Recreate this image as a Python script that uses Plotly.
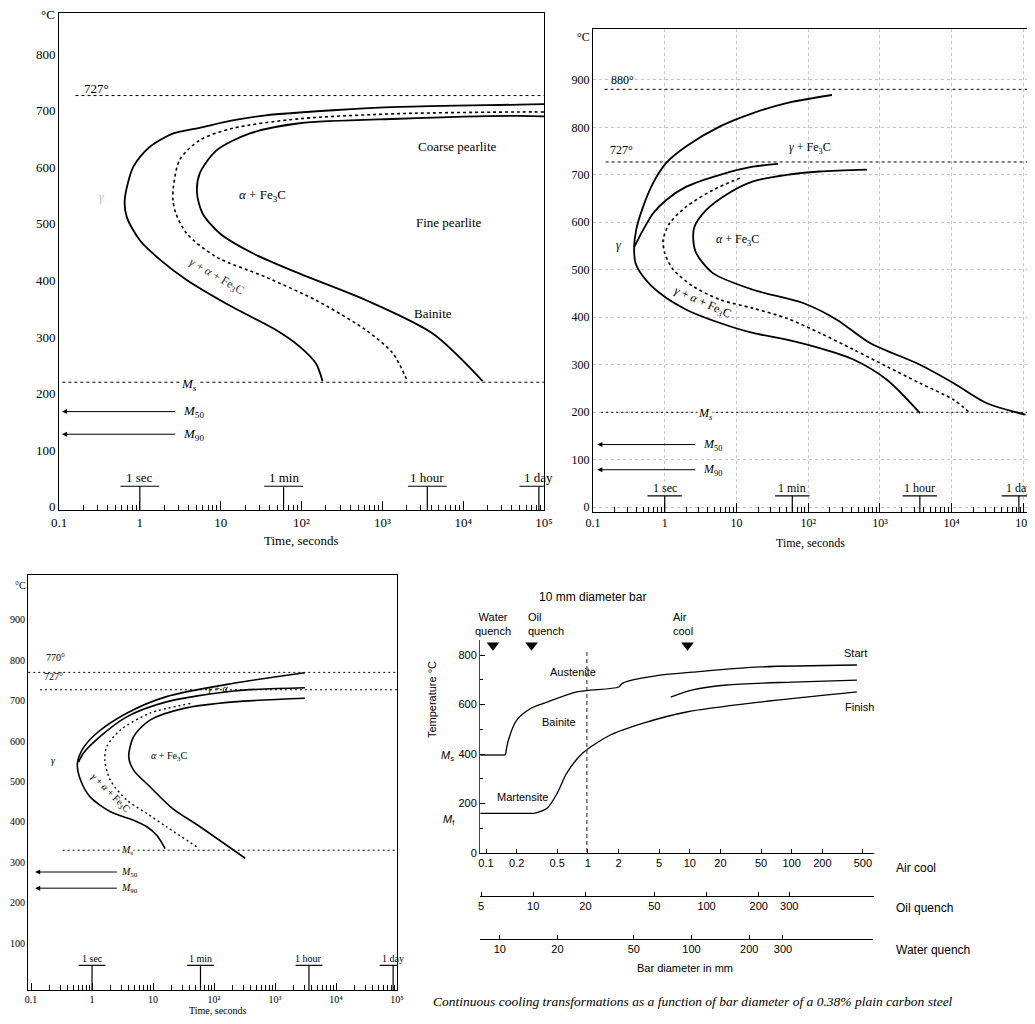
import numpy as np
import plotly.graph_objects as go

# The page adds an 8 px body margin, so page pixel p maps to figure pixel p - 8;
# the height is kept small enough that no scrollbar appears.
OFF = 8
W, H = 1035 - OFF, 1024 - 2 * OFF
SERIF = "Liberation Serif, Times New Roman, serif"
SANS = "Liberation Sans, Arial, sans-serif"


def px(a):
    return (a - OFF) / W


def py(a):
    return 1 - (a - OFF) / H


def dom_x(a, b):
    return [px(a), px(b)]


def dom_y(top, bottom):
    return [py(bottom), py(top)]


# ------------------------------------------------------------------ data
time_ticks = [0.1, 1, 10, 100, 1000, 10000, 100000]
time_ticktext = ["0.1", "1", "10", "10²", "10³", "10⁴", "10⁵"]
marker_times = [1, 60, 3600, 86400]
marker_labels = ["1 sec", "1 min", "1 hour", "1 day"]

# Panel 1 : eutectoid steel (TTT)
p1_start_t = [100000, 49000, 1620, 245, 36, 14, 5.5, 2.6, 1.32, 0.83, 0.65, 0.69, 1.0, 1.8, 3.8, 14, 49, 95, 151, 182]
p1_start_T = [712, 711, 707, 701, 692, 683, 670, 660, 636, 601, 542, 512, 471, 436, 401, 353, 312, 283, 253, 222]
p1_mid_t = [100000, 49000, 1620, 95, 14, 5.5, 3.1, 2.6, 2.57, 2.8, 3.8, 8.7, 36, 151, 630, 1350, 2040]
p1_mid_T = [698, 698, 695, 686, 669, 648, 613, 565, 542, 518, 483, 442, 406, 365, 312, 271, 222]
p1_fin_t = [100000, 49000, 1620, 95, 23, 8.9, 5.5, 5.1, 6.0, 9.8, 25, 95, 630, 4200, 17400]
p1_fin_T = [690, 691, 686, 678, 660, 630, 589, 554, 518, 483, 448, 412, 365, 306, 222]
p1_A1, p1_Ms, p1_M50, p1_M90 = 727, 220, 168, 128

# Panel 2 : hypereutectoid steel (TTT)
p2_outer_t = [214, 50, 17, 5.9, 2.0, 1.05, 0.69, 0.50, 0.40, 0.375, 0.39, 0.50, 0.85, 2.0, 5.9, 17, 50, 145, 427, 1260, 3630]
p2_outer_T = [868, 851, 830, 802, 760, 725, 683, 633, 584, 548, 515, 486, 451, 416, 388, 367, 353, 335, 311, 268, 198]
p2_inner_t = [38, 17, 5.9, 2.0, 1.05, 0.69, 0.50, 0.40, 0.375]
p2_inner_T = [723, 717, 700, 675, 647, 619, 584, 556, 548]
p2_mid_t = [11.2, 4.7, 2.0, 1.17, 0.95, 1.0, 1.32, 2.5, 5.9, 17, 50, 145, 427, 1260, 3630, 10700, 18200]
p2_mid_T = [693, 668, 633, 598, 563, 535, 500, 465, 437, 419, 398, 367, 332, 296, 261, 226, 198]
p2_fin_t = [660, 145, 50, 17, 7.2, 3.8, 2.6, 2.5, 2.75, 4.7, 17, 85, 250, 725, 3630, 10700, 31000, 107000]
p2_fin_T = [711, 707, 700, 686, 658, 626, 591, 563, 535, 493, 458, 430, 395, 346, 300, 261, 219, 195]
p2_Acm, p2_A1, p2_Ms, p2_M50, p2_M90 = 880, 727, 200, 132, 79

# Panel 3 : hypoeutectoid steel (TTT)
p3_outer_t = [3090, 209, 16.6, 3.7, 1.2, 0.72, 0.575, 0.65, 0.93, 2.0, 4.8, 7.9, 11.5, 15.8]
p3_outer_T = [769, 743, 710, 669, 620, 583, 545, 503, 462, 425, 404, 388, 367, 334]
p3_second_t = [3090, 209, 16.6, 3.7, 1.35, 0.72, 0.60]
p3_second_T = [732, 724, 697, 660, 611, 570, 548]
p3_mid_t = [41, 8.9, 2.9, 1.74, 1.62, 2.0, 3.7, 7.9, 16.6, 56]
p3_mid_T = [693, 669, 627, 586, 553, 503, 454, 421, 388, 335]
p3_fin_t = [3090, 209, 32, 8.9, 4.8, 4.0, 4.8, 8.9, 21, 59, 324]
p3_fin_T = [706, 697, 681, 652, 611, 561, 528, 487, 433, 388, 310]
p3_A3, p3_A1, p3_Ms, p3_M50, p3_M90 = 770, 727, 330, 276, 236

# Panel 4 : CCT vs bar diameter (air-cool equivalent diameter, mm)
p4_Ms, p4_Mf = 396, 160
p4_start_d = [0.155, 0.166, 0.20, 0.28, 0.40, 0.78, 2.0, 2.2, 5.1, 10.7, 49, 437]
p4_start_T = [396, 457, 537, 586, 610, 651, 671, 687, 719, 731, 752, 760]
p4_fp_d = [6.5, 10.7, 23, 102, 437]
p4_fp_T = [630, 659, 679, 691, 699]
p4_fin_d = [0.30, 0.40, 0.50, 0.62, 0.89, 1.66, 3.5, 9.3, 49, 437]
p4_fin_T = [160, 182, 242, 323, 404, 477, 525, 570, 610, 651]
p4_step_d = [0.088, 0.155]
p4_fstep_d = [0.088, 0.30]
quench_names = ["Water<br>quench", "Oil<br>quench", "Air<br>cool"]
quench_air_equiv = [0.117, 0.28, 9.5]
air_ticks = [0.1, 0.2, 0.5, 1, 2, 5, 10, 20, 50, 100, 200, 500]
oil_ticks = [5, 10, 20, 50, 100, 200, 300]
water_ticks = [10, 20, 50, 100, 200, 300]
temp_ticks4 = [0, 200, 400, 600, 800]

fig = go.Figure()


def line(x, y, xa, ya, dash=None, width=1.8, color="black", spline=True, clip=True):
    fig.add_trace(go.Scatter(
        x=x, y=y, mode="lines", xaxis=xa, yaxis=ya, cliponaxis=clip,
        line=dict(color=color, width=width, dash=dash,
                  shape="spline" if spline else "linear", smoothing=0.8),
        hoverinfo="skip", showlegend=False))


def label(text, x, y, xref, yref, size, family=SERIF, angle=0, xanchor="center",
          yanchor="middle", color="black", bg=None, logx=True, xshift=0, align="center"):
    fig.add_annotation(
        text=text, x=np.log10(x) if logx else x, y=y, xref=xref, yref=yref,
        showarrow=False, textangle=angle, xanchor=xanchor, yanchor=yanchor,
        font=dict(family=family, size=size, color=color), bgcolor=bg,
        borderpad=0, xshift=xshift, align=align)


def m_arrow(tip, tail, T, xa, ya):
    fig.add_annotation(x=np.log10(tip), y=T, ax=np.log10(tail), ay=T,
                       xref=xa, yref=ya, axref=xa, ayref=ya, text="",
                       showarrow=True, arrowhead=2, arrowsize=1, arrowwidth=1,
                       arrowcolor="black")


def time_markers(xa, ya, y0, h, half_dec, size):
    f = 10 ** half_dec
    for t, lab in zip(marker_times, marker_labels):
        line([t / f, t * f, None, t, t], [h, h, None, h, y0], xa, ya,
             width=1.2, spline=False, clip=False)
        label(lab, t, h, xa, ya, size, yanchor="bottom")


# ------------------------------------------------------------------ panel 1
XA, YA = "x", "y"
line(p1_start_t, p1_start_T, XA, YA)
line(p1_mid_t, p1_mid_T, XA, YA, dash="3px,3px", width=1.6)
line(p1_fin_t, p1_fin_T, XA, YA)
line([0.16, 100000], [p1_A1, p1_A1], XA, YA, dash="3px,3px", width=1, spline=False)
line([0.11, 100000], [p1_Ms, p1_Ms], XA, YA, dash="3px,3px", width=1, spline=False)
m_arrow(0.109, 2.86, p1_M50, XA, YA)
m_arrow(0.109, 2.86, p1_M90, XA, YA)
time_markers(XA, YA, -6, 36, 0.24, 13)
label("727°", 0.29, 739, XA, YA, 13)
label("Coarse pearlite", 8500, 636, XA, YA, 13)
label("<i>α</i> + Fe<sub>3</sub>C", 33, 551, XA, YA, 13)
label("Fine pearlite", 6700, 503, XA, YA, 13)
label("Bainite", 4200, 342, XA, YA, 13)
label("<i>γ</i>", 0.34, 548, XA, YA, 12, color="#bbbbbb")
label("<i>γ</i> + <i>α</i> + Fe<sub>3</sub>C", 8.9, 406, XA, YA, 12, angle=30, color="#333333")
label("<i>M<sub>s</sub></i>", 4, p1_Ms - 4, XA, YA, 13, bg="white")
label("<i>M</i><sub>50</sub>", 3.3, p1_M50, XA, YA, 13, xanchor="left")
label("<i>M</i><sub>90</sub>", 3.3, p1_M90, XA, YA, 13, xanchor="left")

# ------------------------------------------------------------------ panel 2
XA, YA = "x2", "y2"
line(p2_outer_t, p2_outer_T, XA, YA)
line(p2_inner_t, p2_inner_T, XA, YA)
line(p2_mid_t, p2_mid_T, XA, YA, dash="3px,3px", width=1.6)
line(p2_fin_t, p2_fin_T, XA, YA)
line([0.145, 120000], [p2_Acm, p2_Acm], XA, YA, dash="3px,3px", width=1, spline=False)
line([0.15, 120000], [p2_A1, p2_A1], XA, YA, dash="3px,3px", width=1, spline=False)
line([0.13, 120000], [p2_Ms, p2_Ms], XA, YA, dash="2px,3px", width=1, spline=False)
m_arrow(0.115, 2.8, p2_M50, XA, YA)
m_arrow(0.115, 2.8, p2_M90, XA, YA)
time_markers(XA, YA, -10, 24, 0.24, 12)
label("880°", 0.257, 900, XA, YA, 12)
label("727°", 0.25, 753, XA, YA, 12)
label("<i>γ</i> + Fe<sub>3</sub>C", 107, 757, XA, YA, 12)
label("<i>γ</i>", 0.23, 553, XA, YA, 12)
label("<i>α</i> + Fe<sub>3</sub>C", 10.5, 563, XA, YA, 12)
label("<i>γ</i> + <i>α</i> + Fe<sub>3</sub>C", 3.4, 430, XA, YA, 12, angle=24)
label("<i>M<sub>s</sub></i>", 3.6, p2_Ms - 3, XA, YA, 12, bg="white")
label("<i>M</i><sub>50</sub>", 3.3, p2_M50, XA, YA, 12, xanchor="left")
label("<i>M</i><sub>90</sub>", 3.3, p2_M90, XA, YA, 12, xanchor="left")

# ------------------------------------------------------------------ panel 3
XA, YA = "x3", "y3"
line(p3_outer_t, p3_outer_T, XA, YA, width=1.6)
line(p3_second_t, p3_second_T, XA, YA, width=1.6)
line(p3_mid_t, p3_mid_T, XA, YA, dash="2px,3px", width=1.4)
line(p3_fin_t, p3_fin_T, XA, YA, width=1.6)
line([0.09, 100000], [p3_A3, p3_A3], XA, YA, dash="2px,3px", width=1, spline=False)
line([0.14, 100000], [p3_A1, p3_A1], XA, YA, dash="2px,3px", width=1, spline=False)
line([0.33, 100000], [p3_Ms, p3_Ms], XA, YA, dash="2px,3px", width=1, spline=False)
m_arrow(0.117, 2.7, p3_M50, XA, YA)
m_arrow(0.117, 2.7, p3_M90, XA, YA)
time_markers(XA, YA, -16, 45, 0.22, 10)
label("770°", 0.25, 806, XA, YA, 10)
label("727°", 0.23, 759, XA, YA, 10)
label("<i>γ</i> + <i>α</i>", 117, 731, XA, YA, 10)
label("<i>γ</i>", 0.23, 553, XA, YA, 10)
label("<i>α</i> + Fe<sub>3</sub>C", 18, 561, XA, YA, 10)
label("<i>γ</i> + <i>α</i> + Fe<sub>3</sub>C", 2.0, 471, XA, YA, 10, angle=45)
label("<i>M</i><sub>s</sub>", 3.7, p3_Ms, XA, YA, 10, bg="white")
label("<i>M</i><sub>50</sub>", 2.9, p3_M50, XA, YA, 10, xanchor="left")
label("<i>M</i><sub>90</sub>", 2.9, p3_M90, XA, YA, 10, xanchor="left")

# ------------------------------------------------------------------ panel 4
XA, YA = "x4", "y4"
line(p4_step_d, [p4_Ms, p4_Ms], XA, YA, width=1.3, spline=False)
line(p4_start_d, p4_start_T, XA, YA, width=1.3)
line(p4_fp_d, p4_fp_T, XA, YA, width=1.3)
line(p4_fstep_d, [p4_Mf, p4_Mf], XA, YA, width=1.3, spline=False)
line(p4_fin_d, p4_fin_T, XA, YA, width=1.3)
fig.add_trace(go.Scatter(x=quench_air_equiv, y=[840] * 3, mode="markers", xaxis=XA, yaxis=YA,
                         marker=dict(symbol="triangle-down", size=11, color="black"),
                         cliponaxis=False, hoverinfo="skip", showlegend=False))
for q, ybot in zip(quench_air_equiv, [940, 897, 855]):
    fig.add_shape(type="line", xref=XA, yref="paper", x0=np.log10(q), x1=np.log10(q),
                  y0=py(652), y1=py(ybot),
                  line=dict(color="#222222", width=1, dash="4px,3px"))
label(quench_names[0], quench_air_equiv[0], py(638), XA, "paper", 11, family=SANS,
      yanchor="bottom")
label(quench_names[1], quench_air_equiv[1], py(638), XA, "paper", 11, family=SANS,
      yanchor="bottom", xanchor="left", xshift=-5, align="left")
label(quench_names[2], quench_air_equiv[2], py(638), XA, "paper", 11, family=SANS,
      yanchor="bottom", xshift=-5, align="left")
label("10 mm diameter bar", px(592), py(597), "paper", "paper", 12, family=SANS, logx=False)
label("Austenite", 0.71, 731, XA, YA, 11, family=SANS)
label("Bainite", 0.52, 529, XA, YA, 11, family=SANS)
label("Martensite", 0.23, 226, XA, YA, 11, family=SANS, bg="white")
label("Start", 427, 808, XA, YA, 11, family=SANS)
label("Ferrite", 760, 731, XA, YA, 11, family=SANS)
label("Pearlite", 790, 671, XA, YA, 11, family=SANS)
label("Finish", 460, 590, XA, YA, 11, family=SANS)
label("<i>M</i><sub>s</sub>", px(447), 392, "paper", YA, 11, family=SANS, logx=False)
label("<i>M</i><sub>f</sub>", px(449), 135, "paper", YA, 11, family=SANS, logx=False)
label("Temperature °C", px(432), 618, "paper", YA, 11, family=SANS, angle=-90, logx=False)
label("Air cool", px(895), py(868), "paper", "paper", 12, family=SANS, xanchor="left", logx=False)
label("Oil quench", px(895), py(908), "paper", "paper", 12, family=SANS, xanchor="left", logx=False)
label("Water quench", px(895), py(950), "paper", "paper", 12, family=SANS, xanchor="left", logx=False)
label("Bar diameter in mm", px(685), py(968), "paper", "paper", 11, family=SANS, logx=False)

# dummy traces so the extra diameter scales are drawn
fig.add_trace(go.Scatter(x=[10], y=[0.5], xaxis="x5", yaxis="y5", mode="markers",
                         marker=dict(opacity=0), hoverinfo="skip", showlegend=False))
fig.add_trace(go.Scatter(x=[10], y=[0.5], xaxis="x6", yaxis="y6", mode="markers",
                         marker=dict(opacity=0), hoverinfo="skip", showlegend=False))

# Titles / captions
label("°C", px(48), py(15), "paper", "paper", 13, logx=False)
label("°C", px(583), py(37), "paper", "paper", 12, logx=False)
label("°C", px(20), py(585), "paper", "paper", 10, logx=False)
label("Time, seconds", px(301), py(540), "paper", "paper", 13, logx=False)
label("Time, seconds", px(810), py(543), "paper", "paper", 12, logx=False)
label("Time, seconds", px(218), py(1010), "paper", "paper", 10, logx=False)
label("<i>Continuous cooling transformations as a function of bar diameter of a 0.38% plain carbon steel</i>",
      px(432), py(1001), "paper", "paper", 13.5, xanchor="left", logx=False)

# ------------------------------------------------------------------ axes
def time_axis(rng, dom, anchor, size, grid=False, tlen=9):
    return dict(type="log", range=rng, domain=dom, anchor=anchor, automargin=False,
                tickvals=time_ticks, ticktext=time_ticktext,
                ticks="inside", ticklen=tlen, tickwidth=1, tickcolor="black",
                showline=True, linecolor="black", linewidth=1, mirror=True,
                showgrid=grid, gridcolor="#c4c4c4", griddash="dot", gridwidth=1,
                zeroline=False,
                minor=dict(ticks="inside", ticklen=5, dtick="D1", tickcolor="black",
                           tickwidth=1, showgrid=False),
                tickfont=dict(family=SERIF, size=size, color="black"))


def temp_axis(rng, dom, anchor, vals, size, grid=False):
    return dict(range=rng, domain=dom, anchor=anchor, tickvals=vals, automargin=False,
                ticks="", showline=True, linecolor="black", linewidth=1, mirror=True,
                showgrid=grid, gridcolor="#c4c4c4", griddash="dot", gridwidth=1,
                zeroline=False, tickfont=dict(family=SERIF, size=size, color="black"))


def plain_axis(**kw):
    base = dict(automargin=False, showgrid=False, zeroline=False)
    base.update(kw)
    return base


fig.update_layout(
    template="none",
    width=W, height=H, autosize=False,
    margin=dict(l=0, r=0, t=0, b=0, pad=0),
    paper_bgcolor="white", plot_bgcolor="rgba(0,0,0,0)",
    font=dict(family=SERIF, color="black", size=12),
    showlegend=False,
    xaxis=time_axis([-1.0, 5.0], dom_x(59, 544), "y", 13),
    yaxis=temp_axis([-6, 873], dom_y(13, 510), "x", list(range(0, 900, 100)), 13),
    xaxis2=time_axis([-1.0, 5.05], dom_x(593, 1027), "y2", 12, grid=True),
    yaxis2=temp_axis([-10, 1007], dom_y(29, 512), "x2", list(range(0, 1000, 100)), 12, grid=True),
    xaxis3=time_axis([-1.05, 5.0], dom_x(28, 397), "y3", 10, tlen=7),
    yaxis3=temp_axis([-16, 1011], dom_y(575, 990), "x3", list(range(100, 1000, 100)), 10),
    xaxis4=plain_axis(type="log", range=[-1.059, 2.808], domain=dom_x(480, 874), anchor="y4",
                      tickvals=air_ticks, ticktext=[str(v) for v in air_ticks],
                      ticks="inside", ticklen=4, tickcolor="black", showline=True,
                      linecolor="black", linewidth=1,
                      tickfont=dict(family=SANS, size=11, color="black")),
    yaxis4=plain_axis(range=[0, 861], domain=dom_y(640, 853), anchor="x4", tickvals=temp_ticks4,
                      ticks="inside", ticklen=5, tickcolor="black", showline=True,
                      linecolor="#444444", linewidth=1,
                      minor=dict(ticks="inside", ticklen=3, dtick=100, tickcolor="black", showgrid=False),
                      tickfont=dict(family=SANS, size=11, color="black")),
    xaxis5=plain_axis(type="log", range=[0.693, 2.966], domain=dom_x(480, 874), anchor="y5",
                      tickvals=oil_ticks, ticktext=[str(v) for v in oil_ticks],
                      ticks="inside", ticklen=4, tickcolor="black", showline=True,
                      linecolor="black", linewidth=1,
                      tickfont=dict(family=SANS, size=11, color="black")),
    yaxis5=plain_axis(range=[0, 1], domain=dom_y(895.5, 896), anchor="x5", visible=False),
    xaxis6=plain_axis(type="log", range=[0.897, 2.944], domain=dom_x(480, 872.5), anchor="y6",
                      tickvals=water_ticks, ticktext=[str(v) for v in water_ticks],
                      ticks="inside", ticklen=4, tickcolor="black", showline=True,
                      linecolor="black", linewidth=1,
                      tickfont=dict(family=SANS, size=11, color="black")),
    yaxis6=plain_axis(range=[0, 1], domain=dom_y(938.5, 939), anchor="x6", visible=False),
)

fig.write_html("out.html")
